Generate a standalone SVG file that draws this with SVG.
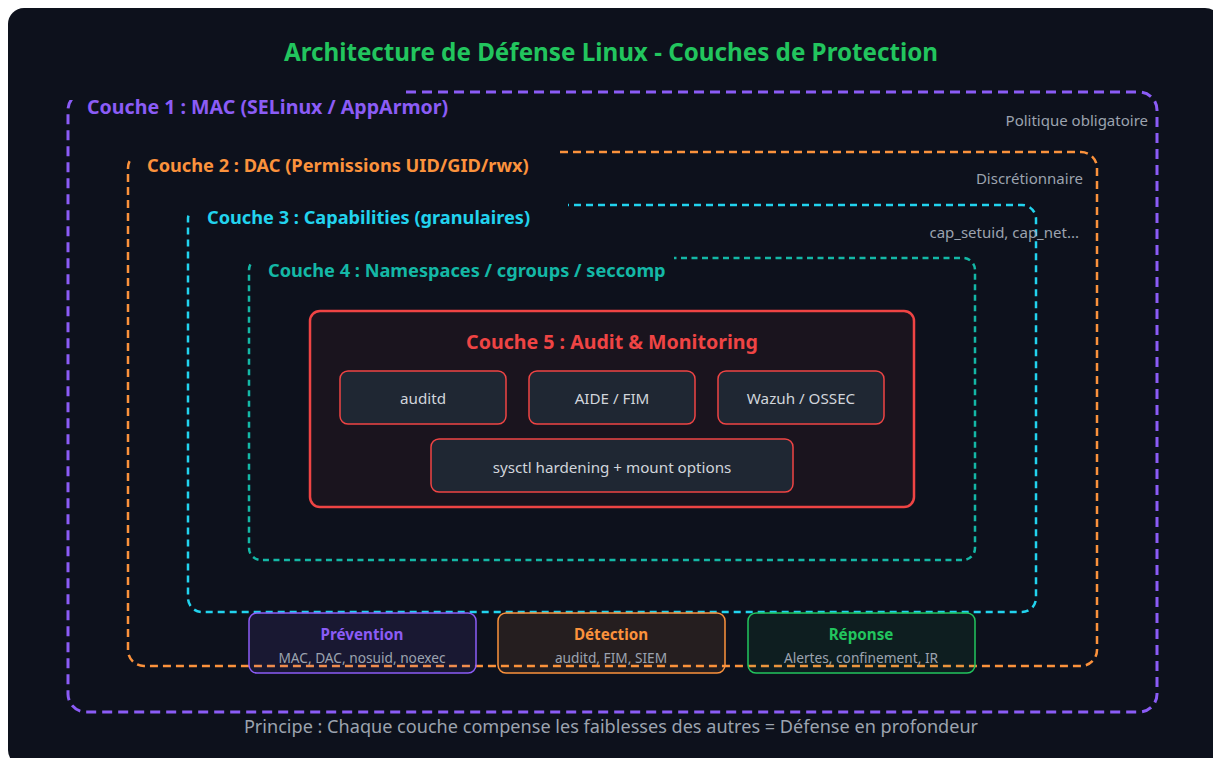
<svg xmlns="http://www.w3.org/2000/svg" width="1213" height="758" viewBox="0 0 1213 758">
<defs>
<style>
.bg{fill:#0d111c}
.lbl{font-family:"Noto Sans","Open Sans",sans-serif;font-weight:bold;font-size:18.2px}
.note{font-family:"Noto Sans","Open Sans",sans-serif;font-size:15px;fill:#9ca3af;text-anchor:end}
.box{fill:#1f2733;stroke:#ef4444;stroke-width:1.5}
.btxt{font-family:"Noto Sans","Open Sans",sans-serif;font-size:15.2px;fill:#d1d5db;text-anchor:middle}
.ttl{font-family:"Noto Sans","Open Sans",sans-serif;font-weight:bold;font-size:15.2px;text-anchor:middle}
.sub{font-family:"Noto Sans","Open Sans",sans-serif;font-size:13.7px;fill:#9ca3af;text-anchor:middle}
</style>
</defs>
<rect x="0" y="0" width="1213" height="758" fill="#ffffff"/>
<rect x="8" y="8" width="1213" height="758" rx="16" class="bg"/>
<text x="611" y="61" text-anchor="middle" font-family="Noto Sans, Open Sans, sans-serif" font-weight="bold" font-size="24.2" fill="#22c55e">Architecture de Défense Linux - Couches de Protection</text>

<g id="layer1">
<rect x="68" y="92" width="1089" height="620" rx="18" fill="none" stroke="#8b5cf6" stroke-width="3" stroke-dasharray="10,6"/>
<rect x="60" y="84" width="342" height="16" class="bg"/>
<text x="87" y="114" class="lbl" fill="#8b5cf6" style="font-size:19.6px">Couche 1 : MAC (SELinux / AppArmor)</text>
<text x="1148" y="126" class="note">Politique obligatoire</text>
</g>
<g id="layer2">
<rect x="128" y="152" width="969" height="514" rx="16" fill="none" stroke="#fb923c" stroke-width="2.5" stroke-dasharray="8,5"/>
<rect x="120" y="145" width="435" height="15" class="bg"/>
<text x="147" y="172" class="lbl" fill="#fb923c">Couche 2 : DAC (Permissions UID/GID/rwx)</text>
<text x="1083" y="184" class="note">Discrétionnaire</text>
</g>
<g id="layer3">
<rect x="188" y="205" width="848" height="407" rx="14" fill="none" stroke="#22d3ee" stroke-width="2.5" stroke-dasharray="7,5"/>
<rect x="180" y="198" width="388" height="14" class="bg"/>
<text x="207" y="224" class="lbl" fill="#22d3ee">Couche 3 : Capabilities (granulaires)</text>
<text x="1079" y="238" class="note">cap_setuid, cap_net...</text>
</g>
<g id="layer4">
<rect x="249" y="258" width="726" height="302" rx="12" fill="none" stroke="#14b8a6" stroke-width="2.5" stroke-dasharray="6,4.5"/>
<rect x="241" y="251" width="433" height="12" class="bg"/>
<text x="268" y="277" class="lbl" fill="#14b8a6">Couche 4 : Namespaces / cgroups / seccomp</text>
</g>
<g id="layer5">
<rect x="310" y="311" width="604" height="196" rx="10" fill="#1a141e" stroke="#ef4444" stroke-width="2.5"/>
<text x="612" y="349" text-anchor="middle" class="lbl" fill="#ef4444" style="font-size:19.6px">Couche 5 : Audit &amp; Monitoring</text>
</g>
<g id="auditd"><rect x="340" y="371" width="166" height="53" rx="8" class="box"/><text x="423" y="404" class="btxt">auditd</text></g>
<g id="aide"><rect x="529" y="371" width="166" height="53" rx="8" class="box"/><text x="612" y="404" class="btxt">AIDE / FIM</text></g>
<g id="wazuh"><rect x="718" y="371" width="166" height="53" rx="8" class="box"/><text x="801" y="404" class="btxt">Wazuh / OSSEC</text></g>
<g id="sysctl"><rect x="431" y="439" width="362" height="53" rx="8" class="box"/><text x="612" y="473" class="btxt">sysctl hardening + mount options</text></g>

<g id="prevention"><rect x="249" y="613" width="227" height="60" rx="8" fill="#8b5cf6" fill-opacity="0.1" stroke="#8b5cf6" stroke-width="1.5"/><text x="362" y="640" class="ttl" fill="#8b5cf6">Prévention</text><text x="362" y="663" class="sub">MAC, DAC, nosuid, noexec</text></g>
<g id="detection"><rect x="498" y="613" width="227" height="60" rx="8" fill="#fb923c" fill-opacity="0.1" stroke="#fb923c" stroke-width="1.5"/><text x="611" y="640" class="ttl" fill="#fb923c">Détection</text><text x="611" y="663" class="sub">auditd, FIM, SIEM</text></g>
<g id="reponse"><rect x="748" y="613" width="227" height="60" rx="8" fill="#22c55e" fill-opacity="0.08" stroke="#22c55e" stroke-width="1.5"/><text x="861" y="640" class="ttl" fill="#22c55e">Réponse</text><text x="861" y="663" class="sub">Alertes, confinement, IR</text></g>

<text x="611" y="733" text-anchor="middle" font-family="Noto Sans, Open Sans, sans-serif" font-size="18.1" fill="#9ca3af">Principe : Chaque couche compense les faiblesses des autres = Défense en profondeur</text>
</svg>
